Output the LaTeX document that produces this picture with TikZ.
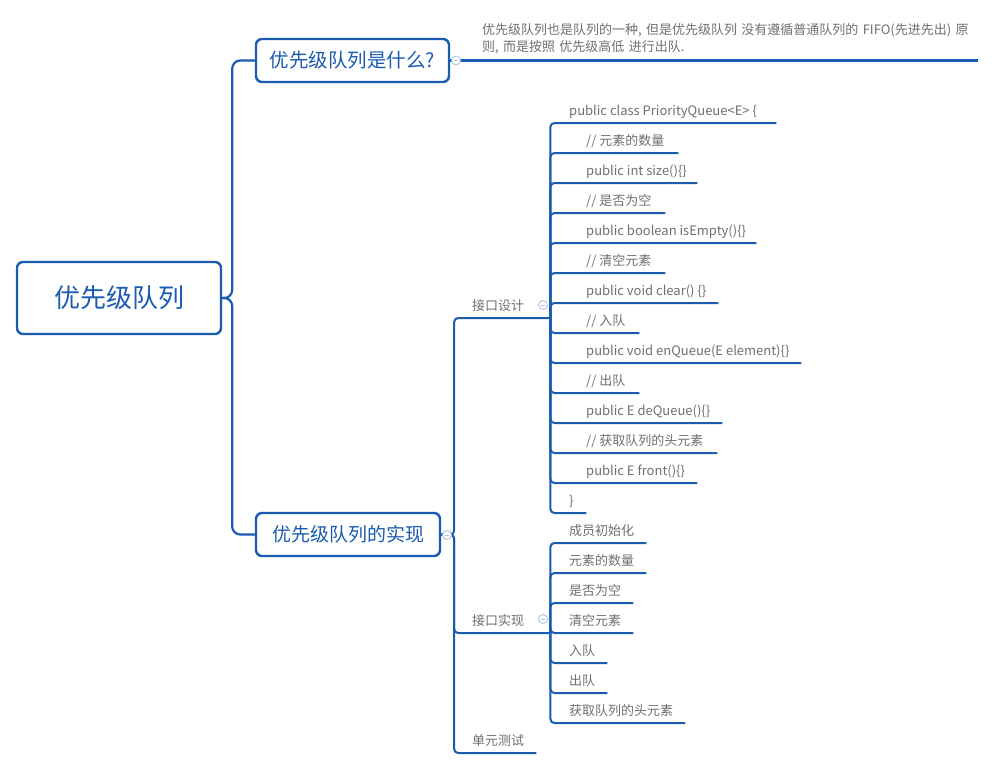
\documentclass[tikz,border=0pt]{standalone}
\usepackage{fontspec}
\setmainfont{Noto Sans CJK SC}
\usetikzlibrary{calc}
\definecolor{mblue}{HTML}{1A5CB0}
\definecolor{tgrey}{HTML}{707070}
\definecolor{cblue}{HTML}{A9BFE6}
\begin{document}
\begin{tikzpicture}[x=1pt,y=-1pt,
  mainbox/.style={draw=mblue,line width=2.4pt,rounded corners=6pt,fill=white,text=mblue,inner sep=0pt},
  mainconn/.style={draw=mblue,line width=2.2pt,rounded corners=8pt},
  leafconn/.style={draw=mblue,line width=2pt,rounded corners=4pt},
  leaf/.style={anchor=south west,inner xsep=0pt,inner ysep=4pt,text height=9pt,text depth=3pt,text=tgrey,font=\fontsize{13}{15}\selectfont},
  collapse/.style={circle,draw=cblue,fill=white,line width=0.8pt,minimum size=9pt,inner sep=0pt,
    path picture={\draw[cblue,line width=0.8pt] ([xshift=-2.2pt]path picture bounding box.center) -- ([xshift=2.2pt]path picture bounding box.center);}}
]
\useasboundingbox (0,0) rectangle (996,769);
\fill[white] (0,0) rectangle (996,769);

% main nodes
\node[mainbox,minimum width=204pt,minimum height=72pt,font=\fontsize{26}{30}\selectfont] (root) at (119,298) {优先级队列};
\node[mainbox,minimum width=193pt,minimum height=43pt,font=\fontsize{19.5}{24}\selectfont] (n1) at (352.5,60.5) {优先级队列是什么?};
\node[mainbox,minimum width=184pt,minimum height=43pt,font=\fontsize{19}{24}\selectfont] (n2) at (348,534.5) {优先级队列的实现};

% description
\node[anchor=south west,inner xsep=0pt,inner ysep=6pt,text width=517pt,align=left,text=tgrey,font=\fontsize{13}{17}\selectfont] (desc) at (461,60.5)
 {\hspace*{21pt}优先级队列也是队列的一种, 但是优先级队列 没有遵循普通队列的 FIFO(先进先出) 原\\\hspace*{21pt}则, 而是按照 优先级高低 进行出队.};

% second-level labels
\node[leaf] (sj) at (453,318) {\makebox[97pt][l]{\hspace*{19pt}接口设计}};
\node[leaf] (sx) at (453,633) {\makebox[97pt][l]{\hspace*{19pt}接口实现}};
\node[leaf] (cs) at (453,753) {\makebox[83pt][l]{\hspace*{19pt}单元测试}};

% interface design children
\foreach \n/\y/\w/\ind/\t in {
 d1/123/226/19/{public class PriorityQueue<E> \{},
 d2/153/128/36/{// 元素的数量},
 d3/183/147/36/{public int size()\{\}},
 d4/213/115/36/{// 是否为空},
 d5/243/206/36/{public boolean isEmpty()\{\}},
 d6/273/115/36/{// 清空元素},
 d7/303/168/36/{public void clear() \{\}},
 d8/333/89/36/{// 入队},
 d9/363/251/36/{public void enQueue(E element)\{\}},
 d10/393/89/36/{// 出队},
 d11/423/172/36/{public E deQueue()\{\}},
 d12/453/167/36/{// 获取队列的头元素},
 d13/483/147/36/{public E front()\{\}},
 d14/513/36/19/{\}}}
{
 \node[leaf] (\n) at (550,\y) {\makebox[\w pt][l]{\hspace*{\ind pt}\t}};
}

% interface implementation children
\foreach \n/\y/\w/\t in {
 x1/543/96/{成员初始化},
 x2/573/96/{元素的数量},
 x3/603/83/{是否为空},
 x4/633/83/{清空元素},
 x5/663/57/{入队},
 x6/693/57/{出队},
 x7/723/135/{获取队列的头元素}}
{
 \node[leaf] (\n) at (550,\y) {\makebox[\w pt][l]{\hspace*{19pt}\t}};
}

% connectors
\draw[mainconn] (root.east) -- ++(10,0) |- (n1.west);
\draw[mainconn] (root.east) -- ++(10,0) |- (n2.west);
\draw[leafconn,line width=2.2pt] (n1.east) -- (desc.south east);
\draw[leafconn] (n2.east) -- ++(13,0) |- (sj.south east);
\draw[leafconn] (n2.east) -- ++(13,0) |- (sx.south east);
\draw[leafconn] (n2.east) -- ++(13,0) |- (cs.south east);
\foreach \n in {d1,d2,d3,d4,d5,d6,d7,d8,d9,d10,d11,d12,d13,d14}
 \draw[leafconn] (sj.south east) |- (\n.south east);
\foreach \n in {x1,x2,x3,x4,x5,x6,x7}
 \draw[leafconn] (sx.south east) |- (\n.south east);

% collapse markers
\node[collapse] (c1) at (456,60.5) {};
\node[collapse] (c2) at (447,535) {};
\node[collapse] (c3) at (543,305) {};
\node[collapse] (c4) at (543,619) {};
\end{tikzpicture}
\end{document}
